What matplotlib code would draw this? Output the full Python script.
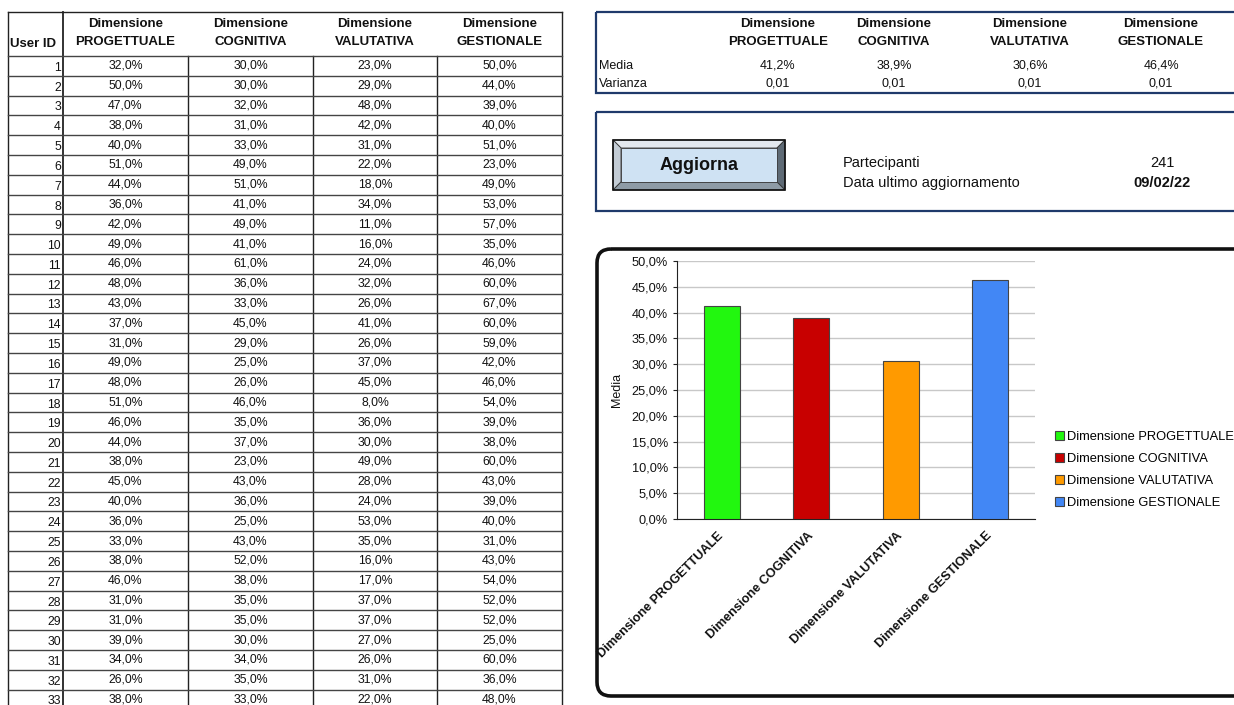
import matplotlib
matplotlib.use("Agg")
import matplotlib.pyplot as plt
from matplotlib.patches import Rectangle, FancyBboxPatch, Polygon
from matplotlib.ticker import FuncFormatter

plt.rcParams["font.family"] = ["Liberation Sans", "DejaVu Sans"]

DIMENSIONI = ["PROGETTUALE", "COGNITIVA", "VALUTATIVA", "GESTIONALE"]
LEGENDA = ["Dimensione " + d for d in DIMENSIONI]

USER_ID = list(range(1, 34))
PROGETTUALE = [32, 50, 47, 38, 40, 51, 44, 36, 42, 49, 46, 48, 43, 37, 31, 49, 48,
               51, 46, 44, 38, 45, 40, 36, 33, 38, 46, 31, 31, 39, 34, 26, 38]
COGNITIVA = [30, 30, 32, 31, 33, 49, 51, 41, 49, 41, 61, 36, 33, 45, 29, 25, 26,
             46, 35, 37, 23, 43, 36, 25, 43, 52, 38, 35, 35, 30, 34, 35, 33]
VALUTATIVA = [23, 29, 48, 42, 31, 22, 18, 34, 11, 16, 24, 32, 26, 41, 26, 37, 45,
              8, 36, 30, 49, 28, 24, 53, 35, 16, 17, 37, 37, 27, 26, 31, 22]
GESTIONALE = [50, 44, 39, 40, 51, 23, 49, 53, 57, 35, 46, 60, 67, 60, 59, 42, 46,
              54, 39, 38, 60, 43, 39, 40, 31, 43, 54, 52, 52, 25, 60, 36, 48]

MEDIA = [0.412, 0.389, 0.306, 0.464]
VARIANZA = [0.01, 0.01, 0.01, 0.01]
PARTECIPANTI = 241
DATA_AGG = "09/02/22"

COLORI = ["#22F70F", "#C80000", "#FF9A00", "#4287F5"]

W, H = 1234, 705
fig = plt.figure(figsize=(W / 100, H / 100), dpi=100)
bg = fig.add_axes([0, 0, 1, 1])
bg.set_xlim(0, W)
bg.set_ylim(H, 0)
bg.axis("off")

TXT = "#111111"

# ---- tabella utenti ----
col_x = [8, 63, 188, 313, 437, 562]
top, head_bot, row_h = 12, 56, 19.8
bg.plot([col_x[0], col_x[-1]], [top, top], color="#222", lw=1)
bg.plot([col_x[0], col_x[0]], [top, H], color="#222", lw=1)
bg.plot([col_x[1], col_x[1]], [top, H], color="#222", lw=1.3)
bg.plot([col_x[-1], col_x[-1]], [top, H], color="#222", lw=1)
for cx in col_x[2:-1]:
    bg.plot([cx, cx], [head_bot, H], color="#222", lw=1)
bg.text(10, 44, "User ID", fontsize=9.5, fontweight="bold", va="center", color=TXT)
for j, d in enumerate(DIMENSIONI):
    cx = (col_x[j + 1] + col_x[j + 2]) / 2
    bg.text(cx, 24, "Dimensione", fontsize=9.5, fontweight="bold", ha="center", va="center", color=TXT)
    bg.text(cx, 42, d, fontsize=9.5, fontweight="bold", ha="center", va="center", color=TXT)

cols = [PROGETTUALE, COGNITIVA, VALUTATIVA, GESTIONALE]
for i, uid in enumerate(USER_ID):
    y0 = head_bot + i * row_h
    bg.plot([col_x[0], col_x[-1]], [y0, y0], color="#444", lw=1)
    yc = y0 + row_h / 2 + 1
    bg.text(col_x[1] - 2, yc + 1, str(uid), fontsize=8.8, ha="right", va="center", color=TXT)
    for j, col in enumerate(cols):
        cx = (col_x[j + 1] + col_x[j + 2]) / 2
        bg.text(cx, yc - 1, f"{col[i]:.1f}%".replace(".", ","), fontsize=8.8,
                ha="center", va="center", color=TXT)

# ---- riquadro statistiche ----
navy = "#1F3A6B"
bg.add_patch(Rectangle((596, 12), 700, 81, fill=False, ec=navy, lw=1.6))
stat_x = [778, 894, 1030, 1161]
for cx, d, m, v in zip(stat_x, DIMENSIONI, MEDIA, VARIANZA):
    bg.text(cx, 24, "Dimensione", fontsize=9.5, fontweight="bold", ha="center", va="center", color=TXT)
    bg.text(cx, 42, d, fontsize=9.5, fontweight="bold", ha="center", va="center", color=TXT)
    bg.text(cx, 66, f"{m * 100:.1f}%".replace(".", ","), fontsize=9, ha="center", va="center", color=TXT)
    bg.text(cx, 84, f"{v:.2f}".replace(".", ","), fontsize=9, ha="center", va="center", color=TXT)
bg.text(599, 66, "Media", fontsize=9, va="center", color=TXT)
bg.text(599, 84, "Varianza", fontsize=9, va="center", color=TXT)

# ---- riquadro aggiorna ----
bg.add_patch(Rectangle((596, 112), 700, 99, fill=False, ec=navy, lw=1.6))
bx0, by0, bx1, by1, b = 613, 140, 785, 190, 8
bg.add_patch(Polygon([(bx0, by0), (bx1, by0), (bx1 - b, by0 + b), (bx0 + b, by0 + b)], fc="#E3E8EE", ec="#333", lw=0.6))
bg.add_patch(Polygon([(bx0, by0), (bx0 + b, by0 + b), (bx0 + b, by1 - b), (bx0, by1)], fc="#C3CCD5", ec="#333", lw=0.6))
bg.add_patch(Polygon([(bx1, by0), (bx1, by1), (bx1 - b, by1 - b), (bx1 - b, by0 + b)], fc="#5E6A75", ec="#333", lw=0.6))
bg.add_patch(Polygon([(bx0, by1), (bx0 + b, by1 - b), (bx1 - b, by1 - b), (bx1, by1)], fc="#8E9BA6", ec="#333", lw=0.6))
bg.add_patch(Rectangle((bx0 + b, by0 + b), bx1 - bx0 - 2 * b, by1 - by0 - 2 * b, fc="#CFE2F3", ec="#333", lw=0.6))
bg.add_patch(Rectangle((bx0, by0), bx1 - bx0, by1 - by0, fill=False, ec="#111", lw=1.2))
bg.text((bx0 + bx1) / 2, (by0 + by1) / 2, "Aggiorna", fontsize=13, fontweight="bold",
        ha="center", va="center", color=TXT)
bg.text(843, 163, "Partecipanti", fontsize=10.5, va="center", color=TXT)
bg.text(843, 183, "Data ultimo aggiornamento", fontsize=10.5, va="center", color=TXT)
bg.text(1162, 163, str(PARTECIPANTI), fontsize=10.5, ha="center", va="center", color=TXT)
bg.text(1162, 183, DATA_AGG, fontsize=10.5, fontweight="bold", ha="center", va="center", color=TXT)

# ---- riquadro grafico ----
bg.add_patch(FancyBboxPatch((597, 249), 700, 447, boxstyle="round,pad=0,rounding_size=14",
                            fill=False, ec="#111", lw=2.6))

ax = fig.add_axes([677 / W, 1 - 519 / H, 358 / W, 258 / H])
x = list(range(len(MEDIA)))
bars = ax.bar(x, MEDIA, width=0.4, color=COLORI, edgecolor="#444", linewidth=0.8, zorder=3)
ax.set_xlim(-0.5, len(MEDIA) - 0.5)
ax.set_ylim(0, 0.5)
ax.set_yticks([i * 0.05 for i in range(11)])
ax.yaxis.set_major_formatter(FuncFormatter(lambda v, p: f"{v * 100:.1f}%".replace(".", ",")))
ax.grid(True, axis="y", color="#C8C8C8", lw=1, zorder=0)
for s in ["top", "right"]:
    ax.spines[s].set_visible(False)
ax.spines["left"].set_color("#222")
ax.spines["bottom"].set_color("#222")
ax.tick_params(axis="y", labelsize=9.2, length=3, colors="#222", labelcolor=TXT)
ax.tick_params(axis="x", length=0, pad=11)
ax.set_xticks(x)
ax.set_xticklabels(LEGENDA, rotation=45, ha="right", va="center", rotation_mode="anchor",
                   fontsize=9.2, fontweight="bold", color=TXT)
ax.set_ylabel("Media", fontsize=9, color=TXT)
ax.yaxis.set_label_coords(-0.15, 0.5)

fig.legend(bars, LEGENDA, loc="upper left", bbox_to_anchor=(1055 / W, 1 - 431 / H),
           frameon=False, fontsize=9.3, handlelength=0.7, handleheight=0.7,
           handletextpad=0.2, labelspacing=0.78, borderpad=0, borderaxespad=0)

fig.savefig("out.png", dpi=100)
